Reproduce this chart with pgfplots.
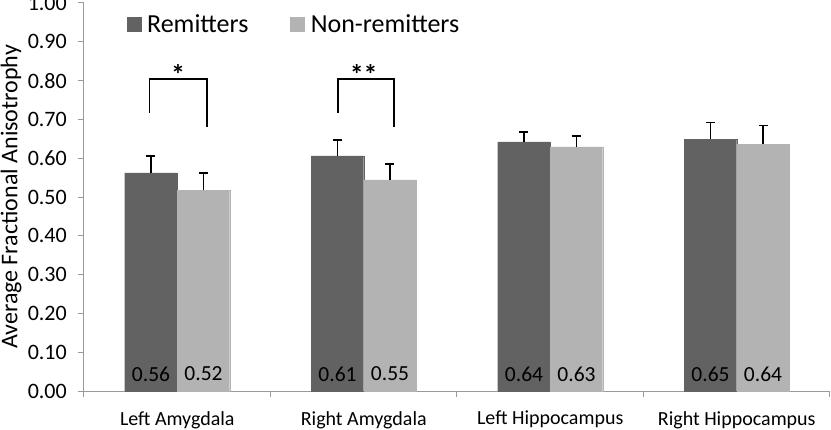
\documentclass[border=0pt]{standalone}
\usepackage{pgfplots}
\pgfplotsset{compat=1.18}
\usepackage{fontspec}
\setmainfont{Carlito}
\definecolor{remit}{HTML}{626262}
\definecolor{nonremit}{HTML}{B3B3B3}
\definecolor{axgray}{HTML}{9A9A9A}
\begin{document}
\begin{tikzpicture}
\begin{axis}[
  at={(0,0)}, anchor=south west,
  scale only axis, width=746pt, height=388pt,
  xmin=-0.5, xmax=3.5, ymin=0, ymax=1,
  axis x line*=bottom, axis y line*=left,
  axis line style={axgray, line width=1pt},
  ybar, bar width=52.5pt,
  xtick={0,1,2,3},
  xticklabels={Left Amygdala, Right Amygdala, Left Hippocampus, Right Hippocampus},
  minor xtick={-0.5,0.5,1.5,2.5,3.5},
  major x tick style={draw=none},
  minor x tick style={axgray, line width=1pt},
  minor tick length=6pt,
  tick align=outside,
  ytick={0,0.1,...,1.0},
  major y tick style={axgray, line width=1pt},
  major tick length=6pt,
  yticklabel style={/pgf/number format/.cd, fixed, fixed zerofill, precision=2, /tikz/.cd, font=\fontsize{22}{26}\selectfont, inner sep=0pt, anchor=east, xshift=-11pt},
  /pgf/number format/assume math mode=true,
  xticklabel style={font=\fontsize{20}{24}\selectfont, inner sep=0pt, anchor=north, yshift=-14pt},
  ylabel={Average Fractional Anisotrophy},
  every axis y label/.style={at={(axis description cs:0,0.5)}, xshift=-73pt, rotate=90, anchor=center, font=\fontsize{24}{27}\selectfont},
  legend style={draw=none, fill=none, legend columns=2, at={(rel axis cs:0.057,0.946)}, anchor=west, font=\fontsize{26}{28}\selectfont, inner sep=0pt, /tikz/every even column/.append style={column sep=40pt}},
  legend image code/.code={\fill[#1] (0pt,-7pt) rectangle (14pt,7pt); \path (18pt,0pt);},
  error bars/error mark options={rotate=90, mark size=4.5pt, line width=1.5pt, black},
  error bars/error bar style={line width=1.5pt, black},
]
\addplot[fill=remit, draw=remit, bar shift=-26.25pt, error bars/.cd, y dir=plus, y explicit] coordinates {
  (0,0.562) +- (0,0.044)
  (1,0.606) +- (0,0.041)
  (2,0.642) +- (0,0.026)
  (3,0.649) +- (0,0.043)
};
\addplot[fill=nonremit, draw=nonremit, bar shift=26.25pt, error bars/.cd, y dir=plus, y explicit] coordinates {
  (0,0.518) +- (0,0.044)
  (1,0.544) +- (0,0.041)
  (2,0.629) +- (0,0.028)
  (3,0.636) +- (0,0.048)
};
\legend{Remitters, Non-remitters}
% significance brackets
\draw[black, line width=1.3pt] (axis cs:-0.15,0.716) -- (axis cs:-0.15,0.804) -- (axis cs:0.16,0.804) -- (axis cs:0.16,0.680);
\draw[black, line width=1.3pt] (axis cs:0.862,0.716) -- (axis cs:0.862,0.804) -- (axis cs:1.162,0.804) -- (axis cs:1.162,0.680);
\node[font=\fontsize{28}{30}\selectfont\bfseries] at (axis cs:0.005,0.815) {*};
\node[font=\fontsize{28}{30}\selectfont\bfseries] at (axis cs:1.0,0.815) {**};
% value labels
\node[font=\fontsize{21.5}{24}\selectfont, xshift=-26.25pt] at (axis cs:0,0.044) {0.56};
\node[font=\fontsize{21.5}{24}\selectfont, xshift=26.25pt] at (axis cs:0,0.044) {0.52};
\node[font=\fontsize{21.5}{24}\selectfont, xshift=-26.25pt] at (axis cs:1,0.044) {0.61};
\node[font=\fontsize{21.5}{24}\selectfont, xshift=26.25pt] at (axis cs:1,0.044) {0.55};
\node[font=\fontsize{21.5}{24}\selectfont, xshift=-26.25pt] at (axis cs:2,0.044) {0.64};
\node[font=\fontsize{21.5}{24}\selectfont, xshift=26.25pt] at (axis cs:2,0.044) {0.63};
\node[font=\fontsize{21.5}{24}\selectfont, xshift=-26.25pt] at (axis cs:3,0.044) {0.65};
\node[font=\fontsize{21.5}{24}\selectfont, xshift=26.25pt] at (axis cs:3,0.044) {0.64};
\end{axis}
\pgfresetboundingbox
\path (-84pt,-38pt) rectangle (747pt,391pt);
\end{tikzpicture}
\end{document}
